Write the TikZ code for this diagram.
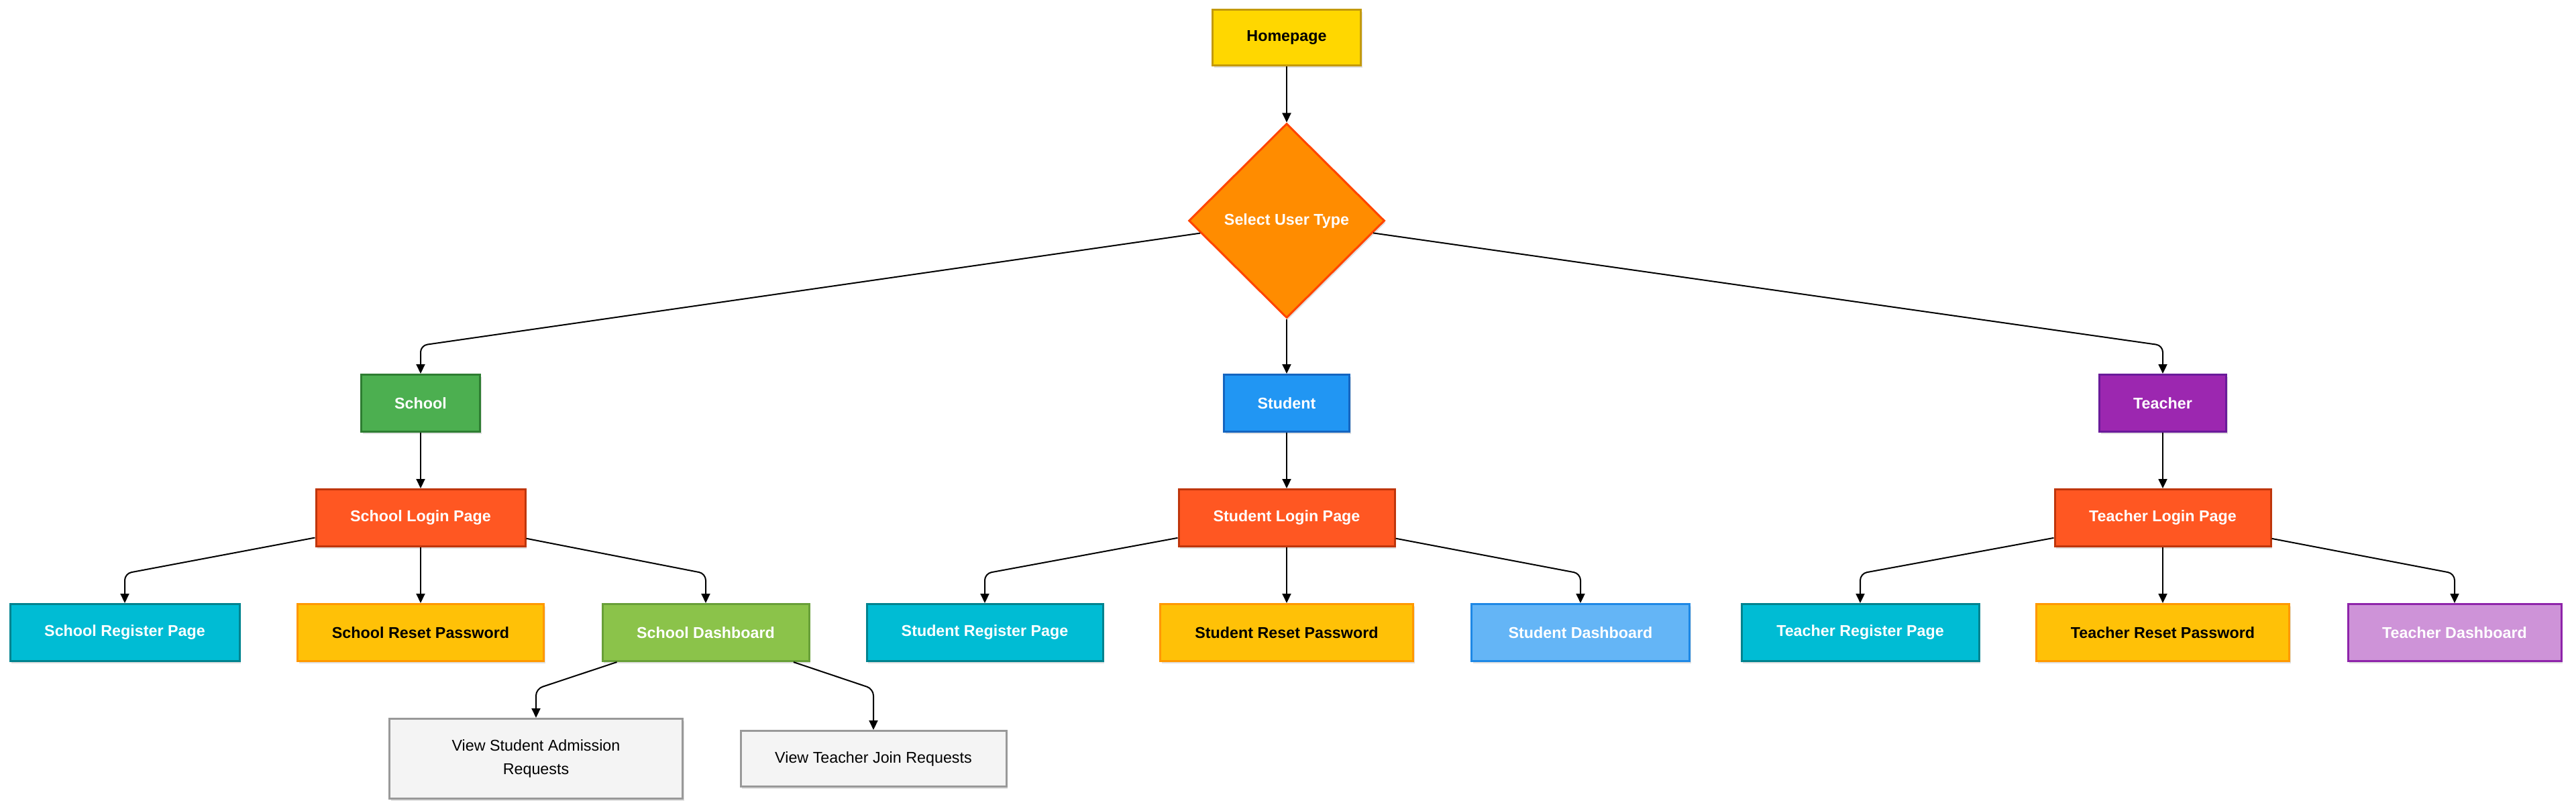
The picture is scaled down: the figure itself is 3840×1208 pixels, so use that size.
\documentclass[tikz,border=0pt]{standalone}
\usepackage{fontspec}
\setmainfont{Liberation Sans}
\usetikzlibrary{shapes.geometric,arrows.meta,shadows}

\definecolor{homeF}{HTML}{FFD700}\definecolor{homeD}{HTML}{C49A0C}
\definecolor{selF}{HTML}{FF8C00}\definecolor{selD}{HTML}{FF4500}
\definecolor{schF}{HTML}{4CAF50}\definecolor{schD}{HTML}{2E7D32}
\definecolor{stuF}{HTML}{2196F3}\definecolor{stuD}{HTML}{1565C0}
\definecolor{teaF}{HTML}{9C27B0}\definecolor{teaD}{HTML}{6A1B9A}
\definecolor{logF}{HTML}{FF5722}\definecolor{logD}{HTML}{BF360C}
\definecolor{regF}{HTML}{00BCD4}\definecolor{regD}{HTML}{00838F}
\definecolor{resF}{HTML}{FFC107}\definecolor{resD}{HTML}{FF9800}
\definecolor{sdF}{HTML}{8BC34A}\definecolor{sdD}{HTML}{689F38}
\definecolor{stdF}{HTML}{64B5F6}\definecolor{stdD}{HTML}{1E88E5}
\definecolor{tdF}{HTML}{CE93D8}\definecolor{tdD}{HTML}{8E24AA}
\definecolor{vF}{HTML}{F4F4F4}\definecolor{vD}{HTML}{999999}

\tikzset{
  box/.style={draw, rectangle, line width=3pt, minimum height=85pt, inner sep=0pt,
    align=center, text=white, font=\fontsize{23.3}{28}\selectfont\bfseries,
    drop shadow={shadow xshift=2pt, shadow yshift=-3pt, opacity=0.12, fill=black}},
  darktext/.style={text=black},
  viewbox/.style={box, fill=vF, draw=vD, text=black, font=\fontsize{23.3}{35}\selectfont},
  conn/.style={draw=black, line width=2pt, rounded corners=10pt,
    -{Triangle[length=14pt,width=13pt]}},
}

\begin{document}
\begin{tikzpicture}[x=1pt,y=-1pt]
\fill[white] (0,0) rectangle (3840,1208);
\useasboundingbox (0,0) rectangle (3840,1208);

% level 0
\node[box, fill=homeF, draw=homeD, darktext, minimum width=221pt, minimum height=83pt] (home) at (1918,56) {Homepage};
\node[diamond, draw=selD, fill=selF, line width=3pt, minimum width=292pt, minimum height=290pt, inner sep=0pt,
  text=white, font=\fontsize{23.3}{28}\selectfont\bfseries,
  drop shadow={shadow xshift=2pt, shadow yshift=-3pt, opacity=0.12, fill=black}] (sel) at (1918,329) {Select User Type};

% level 1
\node[box, fill=schF, draw=schD, minimum width=177pt] (school) at (627,601) {School};
\node[box, fill=stuF, draw=stuD, minimum width=187pt] (student) at (1918,601) {Student};
\node[box, fill=teaF, draw=teaD, minimum width=189pt] (teacher) at (3224,601) {Teacher};

% level 2
\node[box, fill=logF, draw=logD, minimum width=312pt] (sl) at (627,772) {School Login Page};
\node[box, fill=logF, draw=logD, minimum width=322pt] (stl) at (1918,772) {Student Login Page};
\node[box, fill=logF, draw=logD, minimum width=322pt] (tl) at (3224,772) {Teacher Login Page};

% level 3
\node[box, fill=regF, draw=regD, minimum width=342pt] (sr) at (186,943) {School Register Page};
\node[box, fill=resF, draw=resD, darktext, minimum width=367pt] (sp) at (627,943) {School Reset Password};
\node[box, fill=sdF, draw=sdD, minimum width=308pt] (sd) at (1052,943) {School Dashboard};

\node[box, fill=regF, draw=regD, minimum width=352pt] (str) at (1468,943) {Student Register Page};
\node[box, fill=resF, draw=resD, darktext, minimum width=377pt] (stp) at (1918,943) {Student Reset Password};
\node[box, fill=stdF, draw=stdD, minimum width=325pt] (std) at (2356,943) {Student Dashboard};

\node[box, fill=regF, draw=regD, minimum width=354pt] (tr) at (2773,943) {Teacher Register Page};
\node[box, fill=resF, draw=resD, darktext, minimum width=377pt] (tp) at (3224,943) {Teacher Reset Password};
\node[box, fill=tdF, draw=tdD, minimum width=318pt] (td) at (3659,943) {Teacher Dashboard};

% level 4
\node[viewbox, minimum width=437pt, minimum height=119pt] (vsa) at (799,1131) {View Student Admission\\Requests};
\node[viewbox, minimum width=396pt, minimum height=83pt] (vtj) at (1302,1131) {View Teacher Join Requests};

% bend coordinates
\coordinate (c1) at (627,515);
\coordinate (c2) at (3224,515);
\coordinate (c3) at (186,855);
\coordinate (c4) at (1052,855);
\coordinate (c5) at (1468,855);
\coordinate (c6) at (2356,855);
\coordinate (c7) at (2773,855);
\coordinate (c8) at (3659,855);
\coordinate (c9) at (799,1027);
\coordinate (c10) at (1302,1027);

% connectors
\draw[conn] (home) -- (sel);
\draw[conn] (sel) -- (c1) -- (school.north);
\draw[conn] (sel) -- (student);
\draw[conn] (sel) -- (c2) -- (teacher.north);

\draw[conn] (school) -- (sl);
\draw[conn] (student) -- (stl);
\draw[conn] (teacher) -- (tl);

\draw[conn] (sl) -- (c3) -- (sr.north);
\draw[conn] (sl) -- (sp);
\draw[conn] (sl) -- (c4) -- (sd.north);

\draw[conn] (stl) -- (c5) -- (str.north);
\draw[conn] (stl) -- (stp);
\draw[conn] (stl) -- (c6) -- (std.north);

\draw[conn] (tl) -- (c7) -- (tr.north);
\draw[conn] (tl) -- (tp);
\draw[conn] (tl) -- (c8) -- (td.north);

\draw[conn] (sd) -- (c9) -- (vsa.north);
\draw[conn] (sd) -- (c10) -- (vtj.north);
\end{tikzpicture}
\end{document}
